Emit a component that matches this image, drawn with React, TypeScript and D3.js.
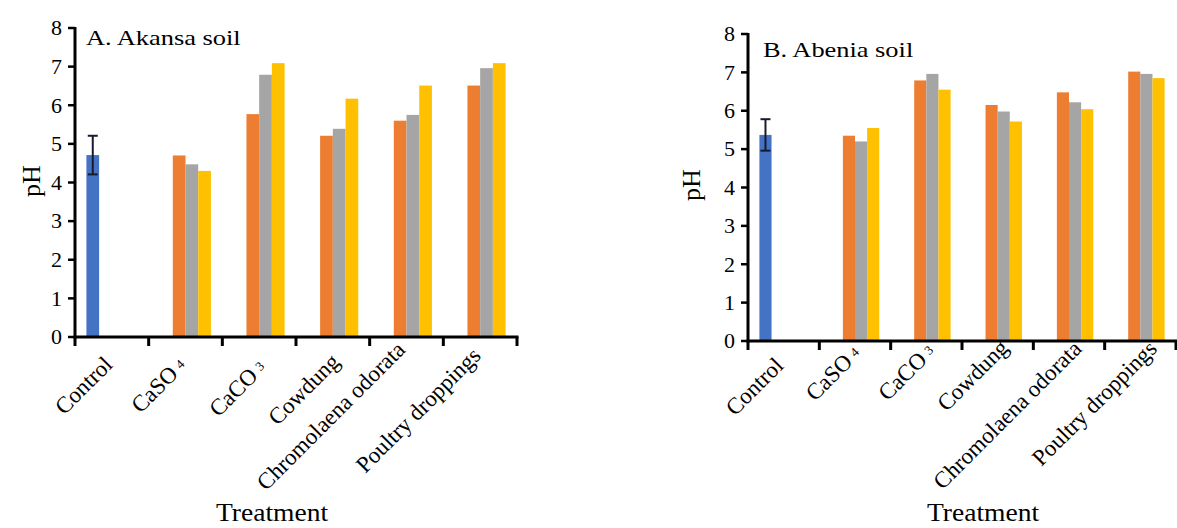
import React from "react";
import * as d3 from "d3";

const categories = ["Control", "CaSO4", "CaCO3", "Cowdung", "Chromolaena odorata", "Poultry droppings"];
const seriesKeys = ["control", "s1", "s2", "s3"];
const seriesColors = ["#4472C4", "#ED7D31", "#A5A5A5", "#FFC000"];
const yTicks = [0, 1, 2, 3, 4, 5, 6, 7, 8];

// A. Akansa soil
const akansaControl = [4.71, null, null, null, null, null];
const akansaS1 = [null, 4.7, 5.77, 5.21, 5.6, 6.51];
const akansaS2 = [null, 4.47, 6.79, 5.39, 5.75, 6.96];
const akansaS3 = [null, 4.3, 7.09, 6.17, 6.51, 7.09];
const akansaErr = [0.5, null, null, null, null, null];

// B. Abenia soil
const abeniaControl = [5.37, null, null, null, null, null];
const abeniaS1 = [null, 5.35, 6.79, 6.15, 6.48, 7.02];
const abeniaS2 = [null, 5.2, 6.96, 5.98, 6.22, 6.96];
const abeniaS3 = [null, 5.55, 6.55, 5.72, 6.04, 6.85];
const abeniaErr = [0.41, null, null, null, null, null];

const FONT = "'Liberation Serif', 'Times New Roman', serif";

type PanelProps = {
  series: (number | null)[][];
  err: (number | null)[];
  title: string;
  x0: number;
  x1: number;
  yTop: number;
  yBottom: number;
  titleX: number;
  titleY: number;
  phX: number;
  phY: number;
  treatX: number;
  treatY: number;
  labelOffsets: [number, number][];
  clusterPad: number;
};

function CatLabel({ name }: { name: string }) {
  const m = name.match(/^(CaSO|CaCO)(\d)$/);
  if (m) {
    return (
      <>
        {m[1]}
        <tspan fontSize={13} dx={5} dy={-3}>{m[2]}</tspan>
      </>
    );
  }
  return <>{name}</>;
}

function Panel(p: PanelProps) {
  const x = d3.scaleBand<string>().domain(categories).range([p.x0, p.x1]).padding(0);
  const bw = x.bandwidth();
  const inner = d3
    .scaleBand<string>()
    .domain(seriesKeys)
    .range([bw * p.clusterPad, bw * (1 - p.clusterPad)])
    .padding(0);
  const y = d3.scaleLinear().domain([0, 8]).range([p.yBottom, p.yTop]);
  const boundaries = d3.range(categories.length + 1).map((i) => p.x0 + i * bw);

  return (
    <g>
      {p.series.map((vals, si) =>
        vals.map((v, ci) =>
          v == null ? null : (
            <rect
              key={`b${si}-${ci}`}
              x={(x(categories[ci]) as number) + (inner(seriesKeys[si]) as number)}
              y={y(v)}
              width={inner.bandwidth()}
              height={y(0) - y(v)}
              fill={seriesColors[si]}
            />
          )
        )
      )}
      {p.err.map((e, ci) => {
        const v = p.series[0][ci];
        if (e == null || v == null) return null;
        const cx = (x(categories[ci]) as number) + (inner(seriesKeys[0]) as number) + inner.bandwidth() / 2;
        return (
          <g key={`e${ci}`} stroke="#1a1a2e" strokeWidth={2}>
            <line x1={cx} x2={cx} y1={y(v + e)} y2={y(v - e)} />
            <line x1={cx - 5} x2={cx + 5} y1={y(v + e)} y2={y(v + e)} />
            <line x1={cx - 5} x2={cx + 5} y1={y(v - e)} y2={y(v - e)} />
          </g>
        );
      })}
      <line x1={p.x0} x2={p.x0} y1={p.yTop - 1} y2={p.yBottom + 1.5} stroke="#000" strokeWidth={3} />
      {yTicks.map((t) => (
        <g key={`yt${t}`}>
          <line x1={p.x0 - 7} x2={p.x0} y1={y(t)} y2={y(t)} stroke="#000" strokeWidth={2.5} />
          <text
            x={p.x0 - 13}
            y={y(t)}
            dy="0.33em"
            textAnchor="end"
            fontFamily={FONT}
            fontSize={22}
            fill="#000"
          >
            {t}
          </text>
        </g>
      ))}
      <line x1={p.x0 - 1.5} x2={p.x1 + 1.5} y1={p.yBottom} y2={p.yBottom} stroke="#000" strokeWidth={3} />
      {boundaries.map((bx, i) => (
        <line key={`xt${i}`} x1={bx} x2={bx} y1={p.yBottom} y2={p.yBottom + 9} stroke="#000" strokeWidth={3} />
      ))}
      {categories.map((c, i) => {
        const [dx, dy] = p.labelOffsets[i];
        const cx = (x(c) as number) + bw / 2 + dx;
        const cy = p.yBottom + dy;
        return (
          <text
            key={`xl${c}`}
            transform={`translate(${cx},${cy}) rotate(-45)`}
            textAnchor="end"
            fontFamily={FONT}
            fontSize={23}
            fill="#000"
          >
            <CatLabel name={c} />
          </text>
        );
      })}
      <text
        transform={`translate(${p.titleX},${p.titleY}) scale(1.2,1)`}
        fontFamily={FONT}
        fontSize={22}
        fill="#000"
      >
        {p.title}
      </text>
      <text
        transform={`translate(${p.phX},${p.phY}) rotate(-90)`}
        textAnchor="middle"
        fontFamily={FONT}
        fontSize={26}
        fill="#000"
      >
        pH
      </text>
      <text
        transform={`translate(${p.treatX},${p.treatY}) scale(1.06,1)`}
        textAnchor="middle"
        fontFamily={FONT}
        fontSize={26}
        fill="#000"
      >
        Treatment
      </text>
    </g>
  );
}

export default function App() {
  return (
    <svg
      width={1177}
      height={528}
      style={{ position: "absolute", left: 0, top: 0, background: "#fff" }}
      viewBox="0 0 1177 528"
    >
      <rect width={1177} height={528} fill="#fff" />
      <Panel
        series={[akansaControl, akansaS1, akansaS2, akansaS3]}
        err={akansaErr}
        title="A. Akansa soil"
        x0={75}
        x1={517}
        yTop={28}
        yBottom={337}
        titleX={86}
        titleY={45}
        phX={40}
        phY={181}
        treatX={272}
        treatY={521}
        labelOffsets={[[2, 29], [2, 30], [8, 32], [8, 26], [0, 14], [2, 20]]}
        clusterPad={0.155}
      />
      <Panel
        series={[abeniaControl, abeniaS1, abeniaS2, abeniaS3]}
        err={abeniaErr}
        title="B. Abenia soil"
        x0={748}
        x1={1176}
        yTop={34}
        yBottom={341}
        titleX={763}
        titleY={57}
        phX={700}
        phY={185}
        treatX={983}
        treatY={521}
        labelOffsets={[[1, 26], [7, 14], [10, 12], [12, 8], [14, 9], [18, 9]]}
        clusterPad={0.16}
      />
    </svg>
  );
}
